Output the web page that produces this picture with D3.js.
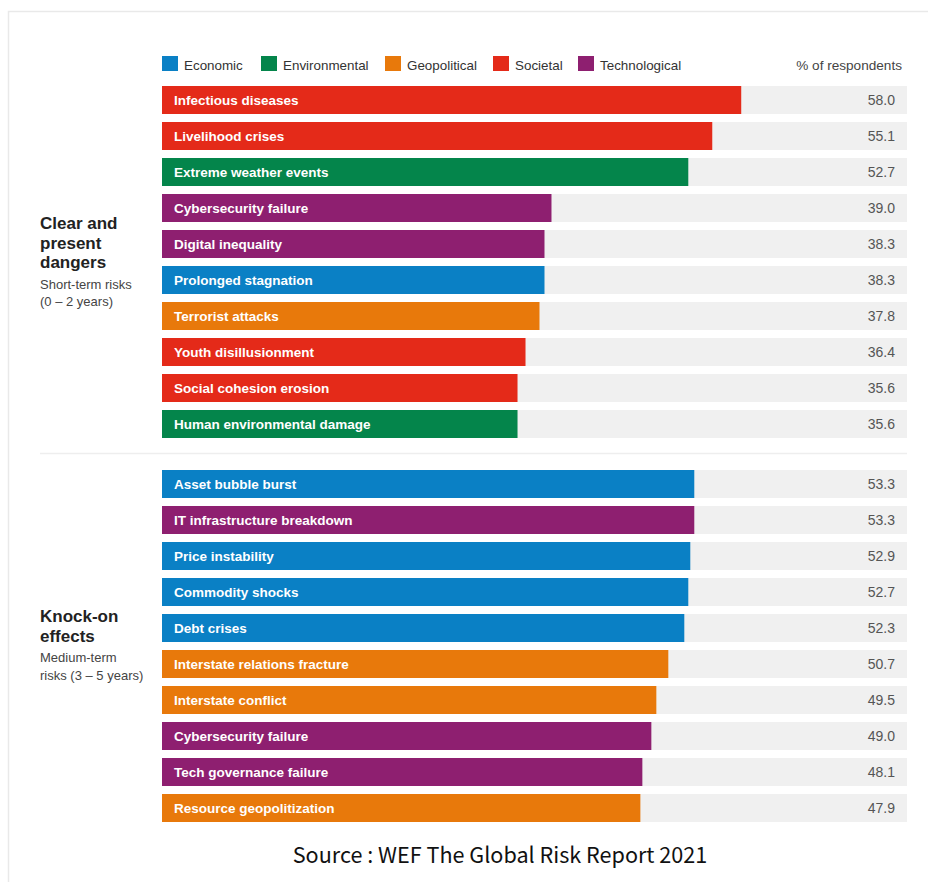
<!DOCTYPE html>
<html>
<head>
<meta charset="utf-8">
<script src="https://cdn.jsdelivr.net/npm/d3@7"></script>
<style>
  body { margin: 0; background: #fff; }
  svg { display: block; }
</style>
</head>
<body>
<div id="chart"></div>
<script>
// categories and their colours
const categories = ['Economic', 'Environmental', 'Geopolitical', 'Societal', 'Technological'];
const categoryColors = ['#0a80c5', '#04854b', '#e8790b', '#e42a19', '#8e1f70'];

// short-term risks (0 - 2 years)
const shortRisks = ['Infectious diseases', 'Livelihood crises', 'Extreme weather events', 'Cybersecurity failure',
	'Digital inequality', 'Prolonged stagnation', 'Terrorist attacks', 'Youth disillusionment',
	'Social cohesion erosion', 'Human environmental damage'];
const shortValues = [58.0, 55.1, 52.7, 39.0, 38.3, 38.3, 37.8, 36.4, 35.6, 35.6];
const shortCats = ['Societal', 'Societal', 'Environmental', 'Technological', 'Technological', 'Economic',
	'Geopolitical', 'Societal', 'Societal', 'Environmental'];

// medium-term risks (3 - 5 years)
const mediumRisks = ['Asset bubble burst', 'IT infrastructure breakdown', 'Price instability', 'Commodity shocks',
	'Debt crises', 'Interstate relations fracture', 'Interstate conflict', 'Cybersecurity failure',
	'Tech governance failure', 'Resource geopolitization'];
const mediumValues = [53.3, 53.3, 52.9, 52.7, 52.3, 50.7, 49.5, 49.0, 48.1, 47.9];
const mediumCats = ['Economic', 'Technological', 'Economic', 'Economic', 'Economic', 'Geopolitical',
	'Geopolitical', 'Technological', 'Technological', 'Geopolitical'];

const width = 928, height = 882;
const svg = d3.select('#chart').append('svg')
	.attr('width', width)
	.attr('height', height);

// page frame
svg.append('rect')
	.attr('x', 8.5).attr('y', 11.5)
	.attr('width', 1000).attr('height', 1000)
	.attr('fill', 'none')
	.attr('stroke', '#e9e9e9')
	.attr('stroke-width', 1.5);

const color = d3.scaleOrdinal().domain(categories).range(categoryColors);
const x = d3.scaleLinear().domain([0, 74.6]).range([162, 907]);

const font = '"Liberation Sans", Arial, Helvetica, sans-serif';

// legend
const legendX = [162, 261, 385, 493, 578];
const legend = svg.append('g');
categories.forEach((c, i) => {
	legend.append('rect')
		.attr('x', legendX[i]).attr('y', 56)
		.attr('width', 16).attr('height', 15)
		.attr('fill', color(c));
	legend.append('text')
		.text(c)
		.attr('x', legendX[i] + 22).attr('y', 70)
		.attr('font-family', font)
		.attr('font-size', '13.4px')
		.attr('fill', '#333');
});
legend.append('text')
	.text('% of respondents')
	.attr('x', 902).attr('y', 70)
	.attr('text-anchor', 'end')
	.attr('font-family', font)
	.attr('font-size', '13.6px')
	.attr('fill', '#444');

function drawGroup(top, names, values, cats, titleLines, subLines, titleY) {
	const y = d3.scaleBand()
		.domain(names.map((d, i) => i))
		.range([top, top + names.length * 36])
		.paddingInner(8 / 36)
		.paddingOuter(4 / 36);
	const rows = svg.append('g').selectAll('g')
		.data(names.map((n, i) => ({ name: n, value: values[i], cat: cats[i], i: i })))
		.join('g');

	rows.append('rect')
		.attr('x', x(0)).attr('y', d => y(d.i))
		.attr('width', x.range()[1] - x(0))
		.attr('height', y.bandwidth())
		.attr('fill', '#f0f0f0');

	rows.append('rect')
		.attr('x', x(0)).attr('y', d => y(d.i))
		.attr('width', d => x(d.value) - x(0))
		.attr('height', y.bandwidth())
		.attr('fill', d => color(d.cat));

	rows.append('text')
		.text(d => d.name)
		.attr('x', x(0) + 12)
		.attr('y', d => y(d.i) + y.bandwidth() / 2 + 5)
		.attr('font-family', font)
		.attr('font-weight', 'bold')
		.attr('font-size', '13.5px')
		.attr('fill', '#fff');

	rows.append('text')
		.text(d => d.value.toFixed(1))
		.attr('x', 895)
		.attr('y', d => y(d.i) + y.bandwidth() / 2 + 5)
		.attr('text-anchor', 'end')
		.attr('font-family', font)
		.attr('font-size', '14px')
		.attr('fill', '#555');

	titleLines.forEach((t, i) => {
		svg.append('text')
			.text(t)
			.attr('x', 40).attr('y', titleY + i * 19.5)
			.attr('font-family', font)
			.attr('font-weight', 'bold')
			.attr('font-size', '17px')
			.attr('fill', '#222');
	});
	subLines.forEach((t, i) => {
		svg.append('text')
			.text(t)
			.attr('x', 40).attr('y', titleY + titleLines.length * 19.5 + 1 + i * 17.5)
			.attr('font-family', font)
			.attr('font-size', '13px')
			.attr('fill', '#444');
	});
}

drawGroup(82, shortRisks, shortValues, shortCats,
	['Clear and', 'present', 'dangers'], ['Short-term risks', '(0 \u2013 2 years)'], 229);

// separator
svg.append('line')
	.attr('x1', 40).attr('x2', 907)
	.attr('y1', 453.5).attr('y2', 453.5)
	.attr('stroke', '#eeeeee')
	.attr('stroke-width', 1.5);

drawGroup(466, mediumRisks, mediumValues, mediumCats,
	['Knock-on', 'effects'], ['Medium-term', 'risks (3 \u2013 5 years)'], 622);

// source
svg.append('text')
	.text('Source : WEF The Global Risk Report 2021')
	.attr('x', 500).attr('y', 863)
	.attr('text-anchor', 'middle')
	.attr('font-family', '"Noto Sans CJK TC", "Noto Sans", sans-serif')
	.attr('font-size', '21.6px')
	.attr('fill', '#111');
</script>
</body>
</html>
